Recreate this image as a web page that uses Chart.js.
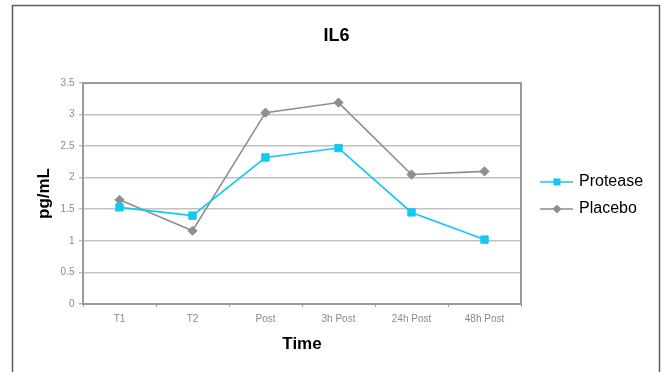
<!DOCTYPE html>
<html>
<head>
<meta charset="utf-8">
<title>IL6</title>
<script src="https://cdn.jsdelivr.net/npm/chart.js@4"></script>
<style>
  html, body { margin: 0; padding: 0; background: #ffffff; }
  #chart { display: block; }
</style>
</head>
<body>
<canvas id="chart" width="661" height="372"></canvas>
<script>
// Sampling times and IL6 concentrations (pg/mL)
const categories = ['T1', 'T2', 'Post', '3h Post', '24h Post', '48h Post'];
const protease = [1.53, 1.40, 2.32, 2.47, 1.45, 1.02];
const placebo = [1.65, 1.16, 3.03, 3.19, 2.05, 2.10];
const yTicks = [0, 0.5, 1, 1.5, 2, 2.5, 3, 3.5];

const FONT = '"Liberation Sans", Arial, Helvetica, sans-serif';
const CYAN = '#12c8f5';
const GREY = '#8e8e8e';

// Legend icons: a short line with the series marker on it
function legendIcon(color, shape) {
  const c = document.createElement('canvas');
  c.width = 43; c.height = 12;
  const g = c.getContext('2d');
  g.strokeStyle = color;
  g.lineWidth = 1.6;
  g.beginPath(); g.moveTo(10, 6); g.lineTo(43, 6); g.stroke();
  g.fillStyle = color;
  if (shape === 'square') {
    g.fillRect(27 - 3.5, 6 - 3.5, 7, 7);
  } else {
    g.beginPath();
    g.moveTo(27, 1.5); g.lineTo(31.5, 6); g.lineTo(27, 10.5); g.lineTo(22.5, 6);
    g.closePath(); g.fill();
  }
  return c;
}
const legendIcons = [legendIcon(CYAN, 'square'), legendIcon(GREY, 'diamond')];

// Fixed legend column width, and the legend block sits a little below centre
const LEGEND_W = 140;
const LEGEND_SHIFT = 9.5;
const legendBox = {
  id: 'legendBox',
  beforeLayout(chart) {
    const lg = chart.legend;
    if (lg && !lg._fixedFit) {
      const orig = lg.fit.bind(lg);
      lg.fit = function () { orig(); this.width = LEGEND_W; };
      lg._fixedFit = true;
    }
  },
  afterLayout(chart) {
    const lg = chart.legend;
    if (lg) { lg.top += LEGEND_SHIFT; lg.bottom += LEGEND_SHIFT; }
  }
};

// Outer chart border and the frame around the plot area
const frames = {
  id: 'frames',
  beforeDatasetsDraw(chart) {
    const { ctx, chartArea: a } = chart;
    ctx.save();
    ctx.strokeStyle = '#9a9a9a';
    ctx.lineWidth = 2;
    ctx.strokeRect(a.left, a.top, a.right - a.left, a.bottom - a.top);
    ctx.restore();
  },
  afterDraw(chart) {
    const { ctx } = chart;
    ctx.save();
    ctx.strokeStyle = '#5e5e5e';
    ctx.lineWidth = 1.5;
    ctx.strokeRect(12.5, 5.5, 647, 400);
    ctx.restore();
  }
};

new Chart(document.getElementById('chart'), {
  type: 'line',
  data: {
    labels: categories,
    datasets: [
      {
        label: 'Protease',
        data: protease,
        borderColor: CYAN,
        backgroundColor: CYAN,
        borderWidth: 1.6,
        pointStyle: 'rect',
        pointRadius: 5.2,
        pointBorderWidth: 1,
        tension: 0,
        fill: false
      },
      {
        label: 'Placebo',
        data: placebo,
        borderColor: GREY,
        backgroundColor: GREY,
        borderWidth: 1.6,
        pointStyle: 'rectRot',
        pointRadius: 4.6,
        pointBorderWidth: 1,
        tension: 0,
        fill: false
      }
    ]
  },
  options: {
    responsive: false,
    animation: false,
    events: [],
    layout: { padding: { left: 12, right: 0, top: 0, bottom: 0 } },
    plugins: {
      tooltip: { enabled: false },
      title: {
        display: true,
        text: 'IL6',
        color: '#000',
        font: { family: FONT, size: 18, weight: 'bold' },
        padding: { top: 24.8, bottom: 36.6 }
      },
      legend: {
        position: 'right',
        align: 'center',
        labels: {
          color: '#000',
          font: { family: FONT, size: 16 },
          padding: 11,
          usePointStyle: true,
          pointStyleWidth: 39,
          generateLabels(chart) {
            const items = Chart.defaults.plugins.legend.labels.generateLabels(chart);
            items.forEach((it, i) => { it.pointStyle = legendIcons[i]; });
            return items;
          }
        }
      }
    },
    scales: {
      x: {
        type: 'category',
        offset: true,
        afterFit(scale) { scale.height = 68; },
        grid: {
          offset: true,
          drawOnChartArea: false,
          drawTicks: true,
          tickLength: 3,
          tickColor: '#a0a0a0',
          tickWidth: 1
        },
        border: { display: true, color: '#9a9a9a', width: 2 },
        ticks: {
          color: '#8a8a8a',
          font: { family: FONT, size: 10 },
          padding: 6,
          maxRotation: 0,
          autoSkip: false
        },
        title: {
          display: true,
          text: 'Time',
          color: '#000',
          font: { family: FONT, size: 17, weight: 'bold' },
          padding: { top: 0, bottom: 17.7 }
        }
      },
      y: {
        min: 0,
        max: 3.5,
        afterFit(scale) { scale.width = 71; },
        afterBuildTicks(scale) { scale.ticks = yTicks.map(v => ({ value: v })); },
        grid: {
          color: '#c2c2c2',
          lineWidth: 1.6,
          drawTicks: true,
          tickLength: 4,
          tickColor: '#a0a0a0',
          tickWidth: 1
        },
        border: { display: true, color: '#9a9a9a', width: 2 },
        ticks: {
          color: '#8a8a8a',
          font: { family: FONT, size: 10 },
          padding: 4.5,
          callback: v => String(v)
        },
        title: {
          display: true,
          text: 'pg/mL',
          color: '#000',
          font: { family: FONT, size: 17, weight: 'bold' },
          padding: { top: 22, bottom: 0 }
        }
      }
    }
  },
  plugins: [legendBox, frames]
});
</script>
</body>
</html>
